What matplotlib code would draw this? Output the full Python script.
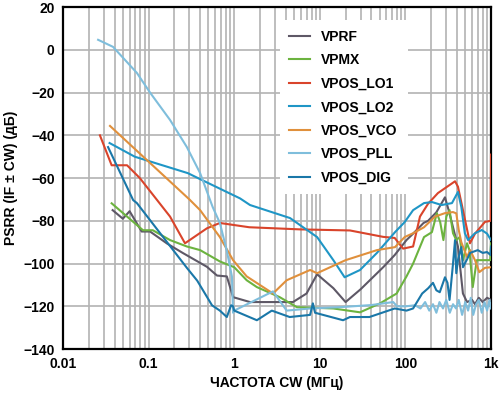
import matplotlib
matplotlib.use("Agg")
import matplotlib.pyplot as plt
from matplotlib.ticker import FixedLocator, LogLocator, NullFormatter

plt.rcParams['font.family'] = ['Liberation Sans', 'DejaVu Sans']

# ---- data ----
vprf_f = [0.038, 0.05, 0.06, 0.083, 0.104, 0.164, 0.25, 0.48, 0.63, 0.82, 0.97, 1.53, 2.8, 4.86, 7.0, 9.3,
          14.4, 20, 30, 55, 75, 103, 123, 163, 184, 230, 290, 320, 360, 411, 470, 525, 600, 650, 720, 800, 900, 1000]
vprf_v = [-75, -79, -75.5, -85, -85, -90.6, -95, -101.5, -105.6, -106, -115.7, -118, -118, -118, -114, -105,
          -111.5, -118, -112, -101.7, -96, -89, -86, -81, -80, -76, -69, -75, -83, -92, -114, -118, -117, -119,
          -116, -118, -116, -117]

vpmx_f = [0.037, 0.056, 0.086, 0.112, 0.178, 0.28, 0.4, 0.68, 1.0, 1.4, 1.84, 3.4, 5.4, 14.4, 29.5, 50.6, 65,
          79, 103, 123, 165, 204, 233, 255, 278, 301, 328, 360, 393, 430, 470, 525, 560, 612, 683, 800, 980, 1000]
vpmx_v = [-71.8, -78, -84.4, -84.4, -89, -92, -93.7, -99, -101.7, -107.8, -111, -115.7, -120.4, -121, -122.8,
          -118.6, -116, -114, -106, -100, -87.6, -85.3, -76.4, -80.6, -89, -78, -75, -85.8, -89, -87.6, -98.4,
          -90.5, -93.7, -111, -98.4, -98.4, -98.4, -90.5]

lo1_f = [0.027, 0.037, 0.056, 0.079, 0.178, 0.266, 0.48, 0.68, 1.5, 5.9, 22.5, 55, 75, 94, 123, 148, 184, 240,
         380, 411, 525, 568, 650, 850, 990, 1000]
lo1_v = [-40, -54, -54, -60, -78, -90.5, -83.5, -81, -83, -84, -84.5, -87.5, -88, -93, -92, -78, -72, -67,
         -61.5, -64, -84, -90.5, -86, -80.5, -80, -49]

lo2_f = [0.035, 0.069, 0.288, 0.4, 1.17, 1.53, 4.49, 9.3, 14.4, 19.5, 29.5, 46.5, 75.6, 98, 123, 165, 204, 265,
         350, 411, 450, 495, 540, 650, 780, 900, 1000]
lo2_v = [-43.6, -50, -57.7, -60.5, -69.5, -72.6, -78.7, -87.6, -98.4, -106.4, -103, -95, -85.3, -80.6, -75,
         -71.7, -71.2, -72.6, -71.7, -66.5, -73.5, -85.8, -89, -85.8, -84.3, -86, -89]

vco_f = [0.0354, 0.30, 0.4, 0.68, 0.97, 1.4, 2.84, 4.1, 7.7, 9.3, 20, 46.5, 75.6, 98, 123, 165, 222, 290, 360,
         393, 420, 450, 525, 570, 650, 730, 850, 1000]
vco_v = [-35.6, -70, -75, -87.6, -98.4, -106, -114, -107.8, -103, -104.5, -98.4, -93.7, -92.3, -87.6, -85.8,
         -83, -78, -76.4, -75.9, -76.5, -84.3, -90, -97, -93.7, -98.4, -104, -102, -101.7]

pll_f = [0.0257, 0.0384, 0.073, 0.104, 0.178, 0.28, 0.40, 0.56, 0.68, 0.82, 0.94, 0.97, 1.0, 2.84, 4.1, 7.7,
         17, 40, 72, 80, 100, 130, 150, 170, 190, 210, 230, 250, 275, 300, 330, 360, 390, 420, 460, 500, 540,
         580, 620, 670, 720, 780, 840, 900, 960, 1000]
pll_v = [4.7, 1.4, -10.8, -20, -32.8, -45.5, -57.7, -73.5, -81, -94, -106, -123, -122, -113, -122, -121,
         -120.4, -119.4, -118, -120, -120, -119.5, -121, -118, -122, -119, -123, -118, -121, -117, -123, -119,
         -121, -117, -124, -118, -122, -116, -124, -119, -117, -123, -118, -122, -117, -121]

dig_f = [0.0336, 0.066, 0.073, 0.28, 0.37, 0.55, 0.68, 0.82, 0.92, 0.97, 1.0, 1.84, 2.75, 4.45, 7.7, 8.3, 8.8,
         18.7, 22.5, 38, 75, 103, 123, 157, 185, 210, 230, 252, 290, 310, 328, 360, 380, 393, 411, 450, 470,
         525, 570, 700, 800, 900, 990, 1000]
dig_v = [-45.5, -70.3, -71.7, -102, -108, -119.5, -122, -125, -119.5, -120, -122, -126.5, -122, -125, -124,
         -118.6, -123, -126.5, -125, -125, -121, -122, -121, -114, -111.5, -109, -112.5, -113.4, -106.4, -109,
         -117, -100, -89, -104.5, -98.4, -92.3, -101.7, -98, -95, -93.7, -95, -94.6, -96, -92]

labels = ['VPRF', 'VPMX', 'VPOS_LO1', 'VPOS_LO2', 'VPOS_VCO', 'VPOS_PLL', 'VPOS_DIG']
colors = ['#5e5866', '#6cb33f', '#d9442b', '#1f96c6', '#e0903c', '#7fbedc', '#1a77a8']
series = [(vprf_f, vprf_v), (vpmx_f, vpmx_v), (lo1_f, lo1_v), (lo2_f, lo2_v),
          (vco_f, vco_v), (pll_f, pll_v), (dig_f, dig_v)]

xticks = [0.01, 0.1, 1, 10, 100, 1000]
xticklabels = ['0.01', '0.1', '1', '10', '100', '1k']
yticks = [20, 0, -20, -40, -60, -80, -100, -120, -140]
yticklabels = ['20', '0', '\u221220', '\u221240', '\u221260', '\u221280', '\u2212100', '\u2212120', '\u2212140']

# ---- figure ----
fig = plt.figure(figsize=(5.0, 3.94), dpi=100)
ax = fig.add_axes([0.126, 0.114, 0.856, 0.868])

for (f, v), lab, c in zip(series, labels, colors):
    ax.plot(f, v, color=c, lw=1.5, label=lab, zorder=3)

ax.set_xscale('log')
ax.set_xlim(0.01, 1000)
ax.set_ylim(-140, 20)
ax.set_xticks(xticks)
ax.set_xticklabels(xticklabels)
ax.xaxis.set_minor_locator(LogLocator(base=10, subs=range(2, 10)))
ax.xaxis.set_minor_formatter(NullFormatter())
ax.set_yticks(yticks)
ax.set_yticklabels(yticklabels)

ax.grid(True, which='both', axis='x', color='#b3b3b3', lw=1.2, zorder=0)
ax.grid(True, which='major', axis='y', color='#b3b3b3', lw=1.2, zorder=0)
ax.set_axisbelow(True)

ax.tick_params(which='both', length=0, labelsize=10, pad=6)
for lab in ax.get_xticklabels() + ax.get_yticklabels():
    lab.set_fontweight('bold')
for s in ax.spines.values():
    s.set_color('black')
    s.set_linewidth(1.6)

ax.set_xlabel('ЧАСТОТА CW (МГц)', fontsize=10, fontweight='bold', labelpad=3)
ax.set_ylabel('PSRR (IF ± CW) (дБ)', fontsize=10, fontweight='bold', labelpad=4)

leg = ax.legend(loc='upper left', bbox_to_anchor=(0.49, 0.982), frameon=True, fancybox=False,
                framealpha=1, facecolor='white', edgecolor='none', handlelength=1.45,
                handletextpad=0.85, labelspacing=0.68, borderpad=0.7,
                prop={'weight': 'bold', 'size': 10})
leg.set_zorder(4)

fig.savefig('out.png', dpi=100)
